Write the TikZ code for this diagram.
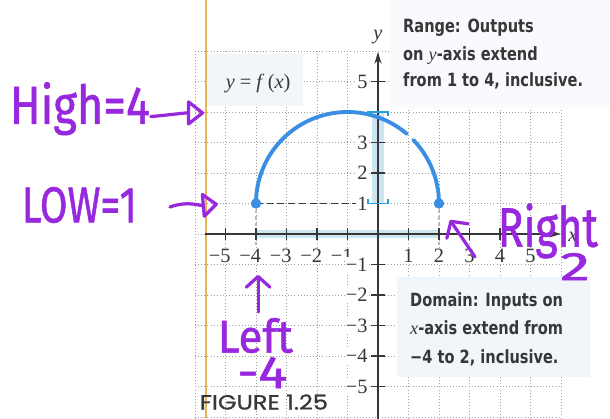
\documentclass[tikz,border=0pt]{standalone}
\usepackage{graphicx}
\usepackage{fontspec}
\setmainfont{Liberation Serif}
\newfontfamily\calfont[FakeStretch=0.8]{DejaVu Sans}
\newfontfamily\hwfont[FakeBold=1.2]{Fira Sans}
\newfontfamily\figfont[FakeBold=0.8]{Poppins}
\usetikzlibrary{arrows.meta}
\definecolor{hw}{RGB}{152,40,222}
\definecolor{curveblue}{RGB}{58,142,228}
\definecolor{bandblue}{RGB}{205,228,242}
\definecolor{brackblue}{RGB}{40,160,215}
\definecolor{paleblue}{RGB}{241,246,251}
\definecolor{ink}{RGB}{55,55,55}
\definecolor{marginline}{RGB}{230,182,80}
\begin{document}
\begin{tikzpicture}[x=1cm,y=1cm,
  gridline/.style={gray!75, line width=0.85pt, dash pattern=on 0.9pt off 2pt},
  axisline/.style={ink, line width=1.6pt},
  tickmark/.style={ink, line width=1.2pt},
  ticklab/.style={font=\fontsize{19}{22}\selectfont, text=ink, inner sep=1pt, fill=white},
  callout/.style={font=\calfont\bfseries\fontsize{17}{20}\selectfont, text=ink, anchor=base west, inner sep=0pt},
  hand/.style={text=hw, inner sep=0pt},
  handarrow/.style={hw, line width=3pt, line cap=round, line join=round},
  enddot/.style={circle, fill=curveblue, inner sep=0pt, minimum size=0.33cm},
  curveline/.style={curveblue, line width=3.6pt, line cap=round},
  bracket/.style={brackblue, line width=1.6pt},
]
\useasboundingbox (-12.393,-6.033) rectangle (7.607,7.672);
\fill[white] (-12.393,-6.033) rectangle (7.607,7.672);
% grid
\draw[gridline] (-6,-6.05) grid (6,6);
% text backgrounds
\fill[paleblue!50!white] (0.42,4.12) rectangle (7.607,7.672);
\fill[paleblue] (-5.62,4.2) rectangle (-2.45,5.9);
\fill[paleblue] (0.62,-1.41) rectangle (6.95,-4.69);
% margin line
\draw[marginline, line width=1.2pt] (-5.64,-6.033) -- (-5.64,7.672);
% highlight bands
\fill[bandblue] (-0.2,1) rectangle (0.2,4);
\fill[bandblue] (-4,-0.14) rectangle (2,0.12);
% end points
\node[enddot] (lo) at (-4,1) {};
\node[enddot] (hi) at (2,1) {};
\coordinate (yone) at (0,1);
\coordinate (lofoot) at (-4,-0.35);
\coordinate (hifoot) at (2,-0.35);
\draw[ink, line width=1.5pt, dash pattern=on 6.5pt off 3.5pt] (lo.center) -- (yone);
\draw[gray!55, line width=1pt, dash pattern=on 3pt off 3pt] (lo.center) -- (lofoot);
\draw[gray!55, line width=1pt, dash pattern=on 3pt off 3pt] (hi.center) -- (hifoot);
% tick labels
\foreach \k in {1,...,5} {
  \node[ticklab] at (\k,-0.72) {\k};
  \node[ticklab] at (-\k,-0.72) {\llap{−}\k};
  \node[ticklab, anchor=east] at (-0.3,-\k) {−\k};
}
\foreach \k in {1,2,3,5} {
  \node[ticklab, anchor=east] at (-0.3,\k) {\k};
}
% axes
\coordinate (xa) at (-5.67,0); \coordinate (xb) at (6.0,0);
\coordinate (ya) at (0,-6.1); \coordinate (yb) at (0,5.97);
\draw[axisline, -{Stealth[length=11pt,width=6.5pt]}] (xa) -- (xb);
\draw[axisline, -{Stealth[length=11pt,width=6.5pt]}] (ya) -- (yb);
\foreach \k in {-5,...,-1,1,2,...,5} {
  \draw[tickmark] (\k,-0.2) -- (\k,0.2);
  \draw[tickmark] (-0.22,\k) -- (0.22,\k);
}
\draw[tickmark] (-0.22,4) -- (0.22,4);
\node[font=\itshape\fontsize{19}{22}\selectfont, text=ink] (ylab) at (0,6.46) {y};
\node[font=\itshape\fontsize{19}{22}\selectfont, text=ink] (xlab) at (6.39,-0.1) {x};
% curve
\draw[curveline] (lo.center) arc[start angle=180,end angle=49.5,radius=3];
\draw[curveline] (1.158,3.084) arc[start angle=44,end angle=0,radius=3];
\node[enddot] at (lo) {};
\node[enddot] at (hi) {};
% brackets
\draw[bracket] (-0.33,3.86) -- (-0.33,4) -- (0.33,4) -- (0.33,3.86);
\draw[bracket] (-0.33,1.14) -- (-0.33,1) -- (0.33,1) -- (0.33,1.14);
% labels
\node[font=\fontsize{19}{22}\selectfont, text=ink] (fx) at (-3.93,4.92) {\textit{y} = \textit{f}\,(\textit{x})};
\node[callout] (r1) at (0.82,6.62) {Range: Outputs};
\node[callout] (r2) at (0.82,5.70) {on {\rmfamily\mdseries\itshape y}-axis extend};
\node[callout] (r3) at (0.82,4.82) {from 1 to 4, inclusive.};
\node[callout] (d1) at (1.05,-2.39) {Domain: Inputs on};
\node[callout] (d2) at (1.05,-3.31) {{\rmfamily\mdseries\itshape x}-axis extend from};
\node[callout] (d3) at (1.05,-4.23) {−4 to 2, inclusive.};
\node[text=ink, inner sep=0pt] (fig) at (-3.74,-5.51) {\resizebox*{4.2cm}{0.5cm}{\figfont FIGURE 1.25}};
% handwriting
\node[hand] (high) at (-9.77,4.11) {\resizebox*{4.59cm}{1.74cm}{\hwfont High=4}};
\node[hand] (low) at (-9.79,0.95) {\resizebox*{3.77cm}{1.18cm}{\hwfont LOW=1}};
\node[hand] (left) at (-4.02,-3.33) {\resizebox*{2.46cm}{1.15cm}{\hwfont Left}};
\node[hand] (leftval) at (-3.80,-4.54) {\resizebox*{1.64cm}{1.02cm}{\hwfont -4}};
\node[hand] (right) at (5.57,0.1) {\resizebox*{3.28cm}{1.8cm}{\hwfont Right}};
\node[hand] (rightval) at (6.46,-1.07) {\resizebox*{0.98cm}{0.89cm}{\hwfont 2}};
\coordinate (hiS) at (-7.45,3.85); \coordinate (hiT) at (-5.7,3.97);
\coordinate (loS) at (-6.82,0.885); \coordinate (loT) at (-5.25,0.98);
\coordinate (lfS) at (-3.93,-2.56); \coordinate (lfT) at (-3.93,-1.34);
\coordinate (rtS) at (3.18,-0.75); \coordinate (rtT) at (2.36,0.46);
\draw[handarrow, -{Triangle[open,length=17pt,width=26pt,round]}] (hiS) to[out=5,in=180] (hiT);
\draw[handarrow, -{Triangle[open,length=16pt,width=26pt,round]}] (loS) to[out=20,in=185] (loT);
\draw[handarrow, -{Straight Barb[length=10pt,width=22pt,round]}] (lfS) -- (lfT);
\draw[handarrow, -{Straight Barb[length=11pt,width=24pt,round]}] (rtS) -- (rtT);
\end{tikzpicture}
\end{document}
